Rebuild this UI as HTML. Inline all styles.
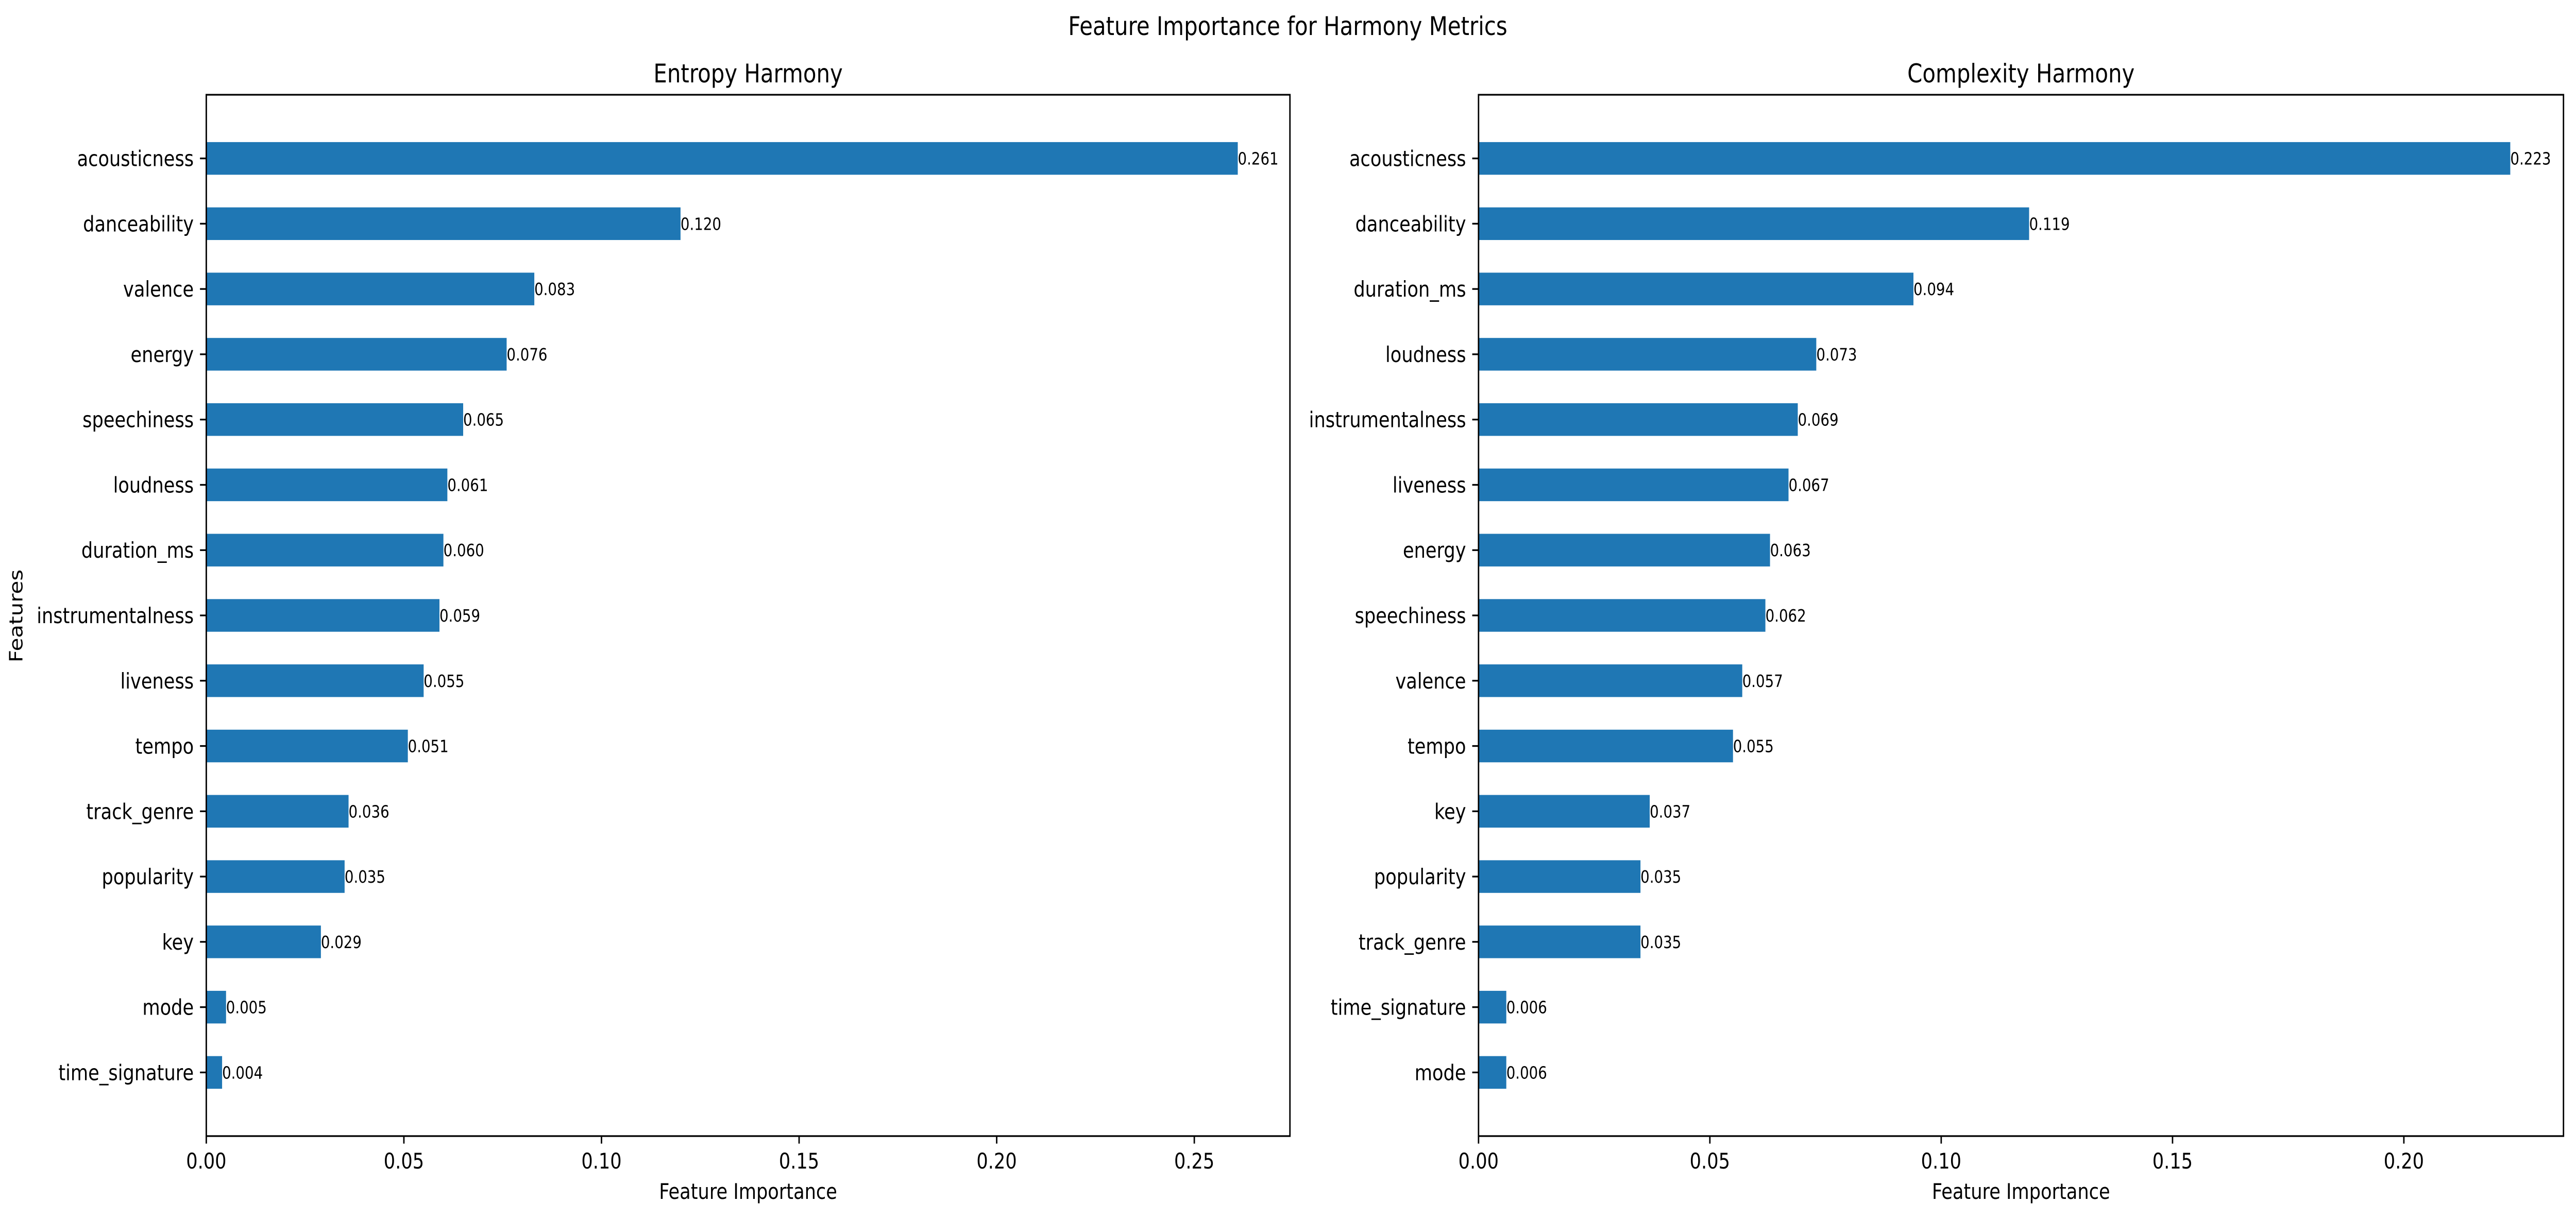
<!DOCTYPE html>
<html><head><meta charset="utf-8"><style>
html,body{margin:0;padding:0;background:#fff;overflow:hidden;width:100%;height:100%;}
svg{display:block;width:100vw;height:100vh;font-family:"DejaVu Sans","Liberation Sans",sans-serif;}
</style></head><body>
<svg id="chart" viewBox="0 0 5969 2367" preserveAspectRatio="none" xmlns="http://www.w3.org/2000/svg">
<rect width="5969" height="2367" fill="#fff"/>
<text x="2984" y="68" font-size="50" text-anchor="middle">Feature Importance for Harmony Metrics</text>
<text x="0" y="0" font-size="42" text-anchor="middle" transform="translate(52,1196) rotate(-90)">Features</text>
</svg>
<script>
const leftCategories = ["acousticness","danceability","valence","energy","speechiness","loudness","duration_ms","instrumentalness","liveness","tempo","track_genre","popularity","key","mode","time_signature"];
const leftValues = [0.261,0.120,0.083,0.076,0.065,0.061,0.060,0.059,0.055,0.051,0.036,0.035,0.029,0.005,0.004];
const leftTicks = [0,0.05,0.10,0.15,0.20,0.25];
const leftTickLabels = ["0.00","0.05","0.10","0.15","0.20","0.25"];
const rightCategories = ["acousticness","danceability","duration_ms","loudness","instrumentalness","liveness","energy","speechiness","valence","tempo","key","popularity","track_genre","time_signature","mode"];
const rightValues = [0.223,0.119,0.094,0.073,0.069,0.067,0.063,0.062,0.057,0.055,0.037,0.035,0.035,0.006,0.006];
const rightTicks = [0,0.05,0.10,0.15,0.20];
const rightTickLabels = ["0.00","0.05","0.10","0.15","0.20"];

const NS = "http://www.w3.org/2000/svg";
const svg = document.getElementById('chart');
function mk(tag, attrs, parent){
  const e = document.createElementNS(NS, tag);
  for (const k in attrs) e.setAttribute(k, attrs[k]);
  (parent||svg).appendChild(e);
  return e;
}
function drawPanel(p){
  const g = mk('g', {});
  
  
  const L = p.left, R = p.right, T = 184, B = 2206;
  const n = p.cats.length;
  const yMin = -0.25 - 0.725, yMax = (n-1) + 0.25 + 0.725;
  const sx = v => L + (v - 0) / p.xmax * (R - L);
  const sy = i => T + (i - yMin) / (yMax - yMin) * (B - T);
  const unit = (B - T) / (yMax - yMin);
  const title = mk('text', {x:(L+R)/2, y:160, 'font-size':50, 'text-anchor':'middle'}, g);
  title.textContent = p.title;
  
  
  p.cats.forEach((c, i) => {
    const cy = sy(i);
    const bar = mk('rect', {x:sx(0), y:cy - unit*0.25, width:sx(p.vals[i]) - sx(0), height:unit*0.5, fill:'#1f77b4'}, g);
    
    
    const vl = mk('text', {x:sx(p.vals[i]), y:cy + 12, 'font-size':33}, g);
    vl.textContent = p.vals[i].toFixed(3);
    
    
    mk('line', {x1:L, x2:L-14.6, y1:cy, y2:cy, stroke:'#000', 'stroke-width':3.3}, g);
    const tl = mk('text', {x:L-29, y:cy + 15, 'font-size':42, 'text-anchor':'end'}, g);
    tl.textContent = c;
    
    
  });
  p.ticks.forEach((t, i) => {
    const x = sx(t);
    mk('line', {x1:x, x2:x, y1:B, y2:B+14.6, stroke:'#000', 'stroke-width':3.3}, g);
    const tl = mk('text', {x:x, y:2269, 'font-size':42, 'text-anchor':'middle'}, g);
    tl.textContent = p.tickLabels[i];
    
    
  });
  const frame = mk('rect', {x:L, y:T, width:R-L, height:B-T, fill:'none', stroke:'#000', 'stroke-width':3.3}, g);
  
  
  const xl = mk('text', {x:(L+R)/2, y:2328, 'font-size':42, 'text-anchor':'middle'}, g);
  xl.textContent = 'Feature Importance';
  
  
}
drawPanel({name:'entropy-harmony-panel', title:'Entropy Harmony', left:478, right:2989, xmax:0.2742, cats:leftCategories, vals:leftValues, ticks:leftTicks, tickLabels:leftTickLabels});
drawPanel({name:'complexity-harmony-panel', title:'Complexity Harmony', left:3426, right:5940, xmax:0.2345, cats:rightCategories, vals:rightValues, ticks:rightTicks, tickLabels:rightTickLabels});
</script>
</body></html>
